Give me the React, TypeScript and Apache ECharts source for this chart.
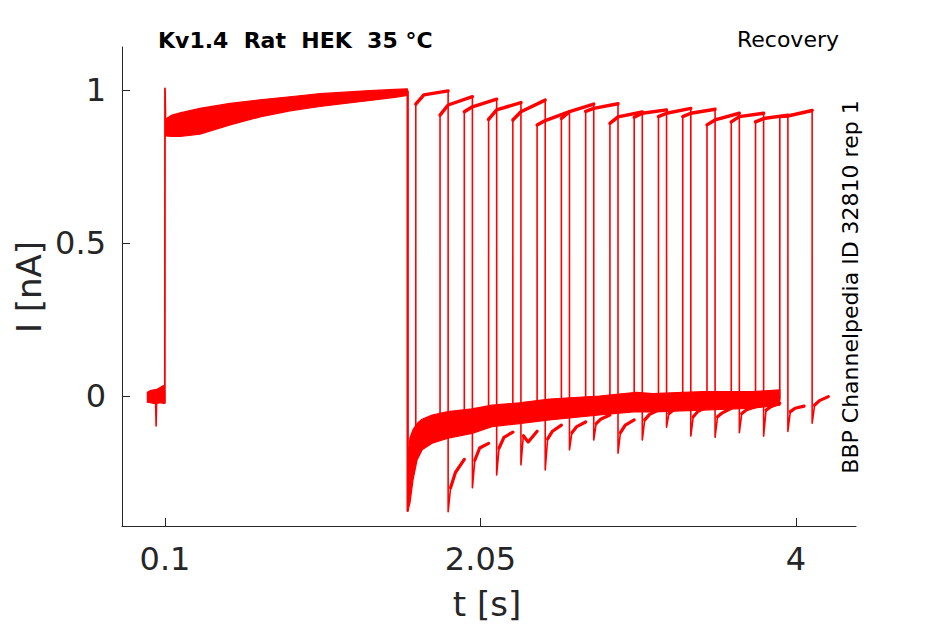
import React, { useEffect, useRef } from "react";
import * as echarts from "echarts";

const RED = "#ff0000";
const AXIS = "#262626";
const FONT = '"DejaVu Sans", "Noto Sans", sans-serif';

// Axis ticks
const xTicks = [0.1, 2.05, 4];
const yTicks = [0, 0.5, 1];

// Holding baseline before the first step (envelope of the overlaid sweeps)
const baselineT = [-0.009, 0.01, 0.03, 0.05, 0.07, 0.09, 0.098];
const baselineHi = [0.012, 0.018, 0.02, 0.022, 0.028, 0.034, 0.02];
const baselineLo = [-0.02, -0.022, -0.024, -0.024, -0.022, -0.024, -0.024];
const baselineDipT = [0.042, 0.045, 0.048];
const baselineDipV = [-0.02, -0.098, -0.02];

// First (conditioning) pulse
const onsetT = [0.099, 0.1, 0.104];
const onsetV = [-0.022, 1.005, 0.87];
const pulse1T = [0.104, 0.143, 0.193, 0.316, 0.502, 0.687, 0.873, 1.058, 1.212, 1.367, 1.521, 1.598];
const pulse1Lo = [0.85, 0.848, 0.848, 0.856, 0.886, 0.912, 0.932, 0.946, 0.956, 0.966, 0.976, 0.982];
const pulse1Hi = [0.905, 0.918, 0.925, 0.94, 0.956, 0.968, 0.978, 0.988, 0.993, 0.998, 1.002, 1.004];
const offsetT = [1.6, 1.6];
const offsetV = [0.995, -0.375];

// Tail after the first pulse (envelope of overlaid sweeps)
const tail1T = [1.601, 1.614, 1.633, 1.658, 1.689, 1.751, 1.85, 1.998, 2.121, 2.29, 2.476, 2.785, 3.014, 3.113, 3.424, 3.733, 3.9];
const tail1Hi = [-0.2, -0.137, -0.11, -0.09, -0.076, -0.062, -0.051, -0.042, -0.03, -0.022, -0.01, 0.0, 0.012, 0.008, 0.014, 0.014, 0.02];
const tail1Lo = [-0.375, -0.35, -0.274, -0.209, -0.176, -0.154, -0.138, -0.122, -0.1, -0.09, -0.078, -0.062, -0.051, -0.052, -0.046, -0.04, -0.03];

// Second (test) pulse per sweep
const sweepRiseT = [1.65, 1.8, 1.95, 2.1, 2.25, 2.4, 2.55, 2.7, 2.85, 3.0, 3.15, 3.3, 3.45, 3.6, 3.75, 3.9];
const sweepPreRise = [-0.15, -0.1, -0.08, -0.07, -0.06, -0.05, -0.045, -0.04, -0.035, -0.03, -0.03, -0.025, -0.02, -0.02, -0.015, -0.01];
const pulse2Start = [0.954, 0.918, 0.929, 0.904, 0.902, 0.886, 0.907, 0.93, 0.891, 0.911, 0.913, 0.913, 0.886, 0.896, 0.896, 0.913];
const pulse2Mid = [0.984, 0.951, 0.945, 0.935, 0.929, 0.9, 0.929, 0.94, 0.912, 0.924, 0.924, 0.924, 0.902, 0.913, 0.907, 0.915];
const pulse2End = [0.997, 0.978, 0.97, 0.959, 0.967, 0.929, 0.954, 0.955, 0.928, 0.935, 0.94, 0.937, 0.924, 0.924, 0.918, 0.933];
const tail2Peak = [-0.378, -0.3, -0.258, -0.225, -0.242, -0.176, -0.144, -0.187, -0.144, -0.102, -0.131, -0.135, -0.12, -0.131, -0.116, -0.089];
const tail2At15 = [-0.3, -0.21, -0.17, -0.13, -0.14, -0.12, -0.09, -0.12, -0.078, -0.057, -0.068, -0.068, -0.057, -0.046, -0.051, -0.03];
const tail2At45 = [-0.25, -0.17, -0.135, -0.15, -0.115, -0.1, -0.075, -0.095, -0.06, -0.045, -0.05, -0.055, -0.045, -0.035, -0.04, -0.015];
const tail2At100 = [-0.207, -0.155, -0.118, -0.115, -0.095, -0.085, -0.062, -0.078, -0.046, -0.035, -0.035, -0.04, -0.035, -0.024, -0.033, -0.002];
const pulse2Duration = 0.2;
const pulse2MidOffset = 0.05;
const tail2Offsets = [0.015, 0.045, 0.1];

const X_MIN = -0.1658;
const X_MAX = 4.371;
const Y_MIN = -0.4248;
const Y_MAX = 1.1405;

function zip(t: number[], v: number[]) {
  return t.map((x, i) => [x, v[i]]);
}

function line(data: number[][], width: number) {
  return {
    type: "line",
    data,
    showSymbol: false,
    symbol: "none",
    silent: true,
    lineStyle: { color: RED, width, join: "round", cap: "round" },
    z: 3,
  };
}

export default function App() {
  const ref = useRef<HTMLDivElement>(null);

  useEffect(() => {
    if (!ref.current) return;
    const chart = echarts.init(ref.current, undefined, { renderer: "svg" });

    const bands = [
      { t: baselineT, lo: baselineLo, hi: baselineHi },
      { t: pulse1T, lo: pulse1Lo, hi: pulse1Hi },
      { t: tail1T, lo: tail1Lo, hi: tail1Hi },
    ];

    const series: any[] = [];
    series.push({
      type: "custom",
      coordinateSystem: "cartesian2d",
      silent: true,
      clip: true,
      data: bands.map((b, i) => [b.t[0], b.hi[0], i]),
      encode: { x: 0, y: 1 },
      renderItem: (params: any, api: any) => {
        const b = bands[params.dataIndex];
        const pts: number[][] = [];
        for (let k = 0; k < b.t.length; k++) pts.push(api.coord([b.t[k], b.hi[k]]));
        for (let k = b.t.length - 1; k >= 0; k--) pts.push(api.coord([b.t[k], b.lo[k]]));
        return {
          type: "polygon",
          shape: { points: pts },
          style: { fill: RED, stroke: RED, lineWidth: 1.2, lineJoin: "round" },
        };
      },
      z: 2,
    });

    series.push(line(zip(baselineDipT, baselineDipV), 1.6));
    series.push(line(zip(onsetT, onsetV), 1.8));
    series.push(line(zip(offsetT, offsetV), 2.4));

    sweepRiseT.forEach((rise, i) => {
      const fall = rise + pulse2Duration;
      const full = [
        [rise, sweepPreRise[i]],
        [rise, pulse2Start[i]],
        [rise + pulse2MidOffset, pulse2Mid[i]],
        [fall, pulse2End[i]],
        [fall, tail2Peak[i]],
        [fall + tail2Offsets[0], tail2At15[i]],
        [fall + tail2Offsets[1], tail2At45[i]],
        [fall + tail2Offsets[2], tail2At100[i]],
      ];
      series.push(line(full, 1.6));
      series.push(line(full.slice(1, 4), 3.4));
      series.push(line(full.slice(5, 8), 3.2));
    });

    const option: any = {
      animation: false,
      backgroundColor: "#ffffff",
      grid: { left: 122, right: 89, top: 47, bottom: 98 },
      xAxis: {
        type: "value",
        min: X_MIN,
        max: X_MAX,
        axisLine: { show: true, onZero: false, lineStyle: { color: AXIS, width: 1 } },
        axisTick: { show: true, inside: true, length: 8, customValues: xTicks, lineStyle: { color: AXIS, width: 1 } },
        axisLabel: { customValues: xTicks, fontSize: 32, color: AXIS, fontFamily: FONT, margin: 17 },
        splitLine: { show: false },
      },
      yAxis: {
        type: "value",
        min: Y_MIN,
        max: Y_MAX,
        axisLine: { show: true, onZero: false, lineStyle: { color: AXIS, width: 1 } },
        axisTick: { show: true, inside: true, length: 8, customValues: yTicks, lineStyle: { color: AXIS, width: 1 } },
        axisLabel: { customValues: yTicks, fontSize: 32, color: AXIS, fontFamily: FONT, margin: 16 },
        splitLine: { show: false },
      },
      graphic: [
        {
          type: "text",
          x: 158,
          y: 40,
          style: {
            text: "Kv1.4  Rat  HEK  35 °C",
            font: `bold 22px ${FONT}`,
            fill: "#000",
            textAlign: "left",
            textVerticalAlign: "middle",
            align: "left",
            verticalAlign: "middle",
          },
        },
        {
          type: "text",
          x: 839,
          y: 39,
          style: {
            text: "Recovery",
            font: `22px ${FONT}`,
            fill: "#000",
            textAlign: "right",
            textVerticalAlign: "middle",
            align: "right",
            verticalAlign: "middle",
          },
        },
        {
          type: "text",
          x: 850,
          y: 287,
          rotation: Math.PI / 2,
          style: {
            text: "BBP Channelpedia ID 32810 rep 1",
            font: `22px ${FONT}`,
            fill: "#000",
            textAlign: "center",
            textVerticalAlign: "middle",
            align: "center",
            verticalAlign: "middle",
          },
        },
        {
          type: "text",
          x: 29,
          y: 287,
          rotation: Math.PI / 2,
          style: {
            text: "I [nA]",
            font: `34px ${FONT}`,
            fill: AXIS,
            textAlign: "center",
            textVerticalAlign: "middle",
            align: "center",
            verticalAlign: "middle",
          },
        },
        {
          type: "text",
          x: 487,
          y: 604,
          style: {
            text: "t [s]",
            font: `34px ${FONT}`,
            fill: AXIS,
            textAlign: "center",
            textVerticalAlign: "middle",
            align: "center",
            verticalAlign: "middle",
          },
        },
      ],
      series,
    };

    chart.setOption(option);
    return () => chart.dispose();
  }, []);

  return (
    <div
      ref={ref}
      style={{ position: "fixed", left: 0, top: 0, width: 945, height: 624, background: "#fff" }}
    />
  );
}
